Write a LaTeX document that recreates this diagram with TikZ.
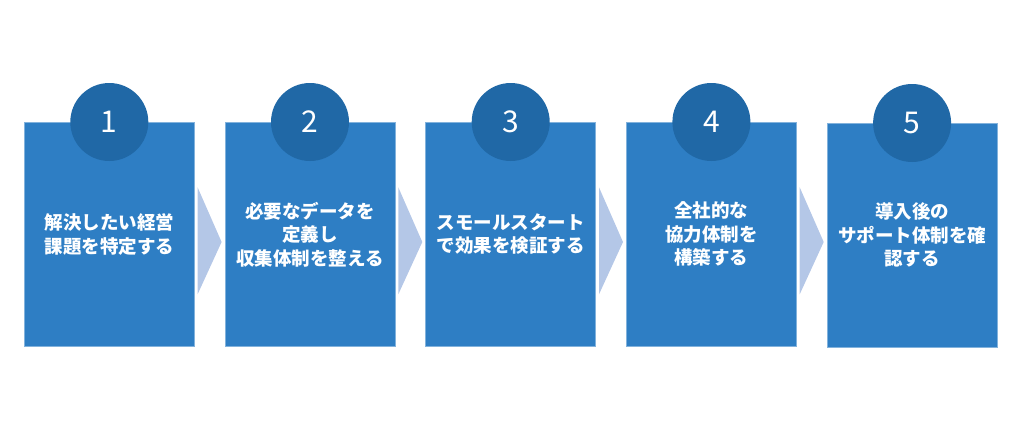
\documentclass[tikz,border=0pt]{standalone}
\usepackage{fontspec}
\setmainfont{Noto Sans CJK JP}
\usetikzlibrary{positioning}
\definecolor{boxblue}{HTML}{2E7EC4}
\definecolor{numblue}{HTML}{2068A6}
\definecolor{chevcol}{HTML}{B4C7E7}
\tikzset{
	stepbox/.style = {fill=boxblue, draw=boxblue!60!white, line width=0.6pt, minimum width=170pt, minimum height=224pt, inner sep=0pt, text=white, align=center, font=\bfseries\fontsize{18.5}{23.5}\selectfont},
	numcircle/.style = {circle, fill=numblue, minimum size=78pt, inner sep=0pt, text=white, font=\fontsize{30}{30}\selectfont},
	chevron/.style = {fill=chevcol}
}
\begin{document}
\begin{tikzpicture}[x=1pt,y=-1pt]
			\useasboundingbox (0,0) rectangle (1024,426);
			\node[stepbox,anchor=north west] (step1) at (24,122) {解決したい経営\\課題を特定する};
			\node[stepbox,right=30.1pt of step1] (step2) {必要なデータを\\定義し\\収集体制を整える};
			\node[stepbox,right=30.1pt of step2] (step3) {スモールスタート\\で効果を検証する};
			\node[stepbox,right=30.1pt of step3] (step4) {全社的な\\協力体制を\\構築する};
			\node[stepbox,right=30.1pt of step4,yshift=-1pt] (step5) {導入後の\\サポート体制を確\\認する};
			\node[numcircle] (num1) at (step1.north) {1};
			\node[numcircle] (num2) at (step2.north) {2};
			\node[numcircle] (num3) at (step3.north) {3};
			\node[numcircle] (num4) at (step4.north) {4};
			\node[numcircle] (num5) at (step5.north) {5};
			% chevrons between the steps
			\fill[chevron] (step1.east) ++(3,-47) -- ++(24,54.7) -- ++(-24,52.3) -- cycle;
			\fill[chevron] (step2.east) ++(3,-47) -- ++(24,54.7) -- ++(-24,52.3) -- cycle;
			\fill[chevron] (step3.east) ++(3,-47) -- ++(24,54.7) -- ++(-24,52.3) -- cycle;
			\fill[chevron] (step4.east) ++(3,-47) -- ++(24,54.7) -- ++(-24,52.3) -- cycle;
		\end{tikzpicture}
\end{document}
